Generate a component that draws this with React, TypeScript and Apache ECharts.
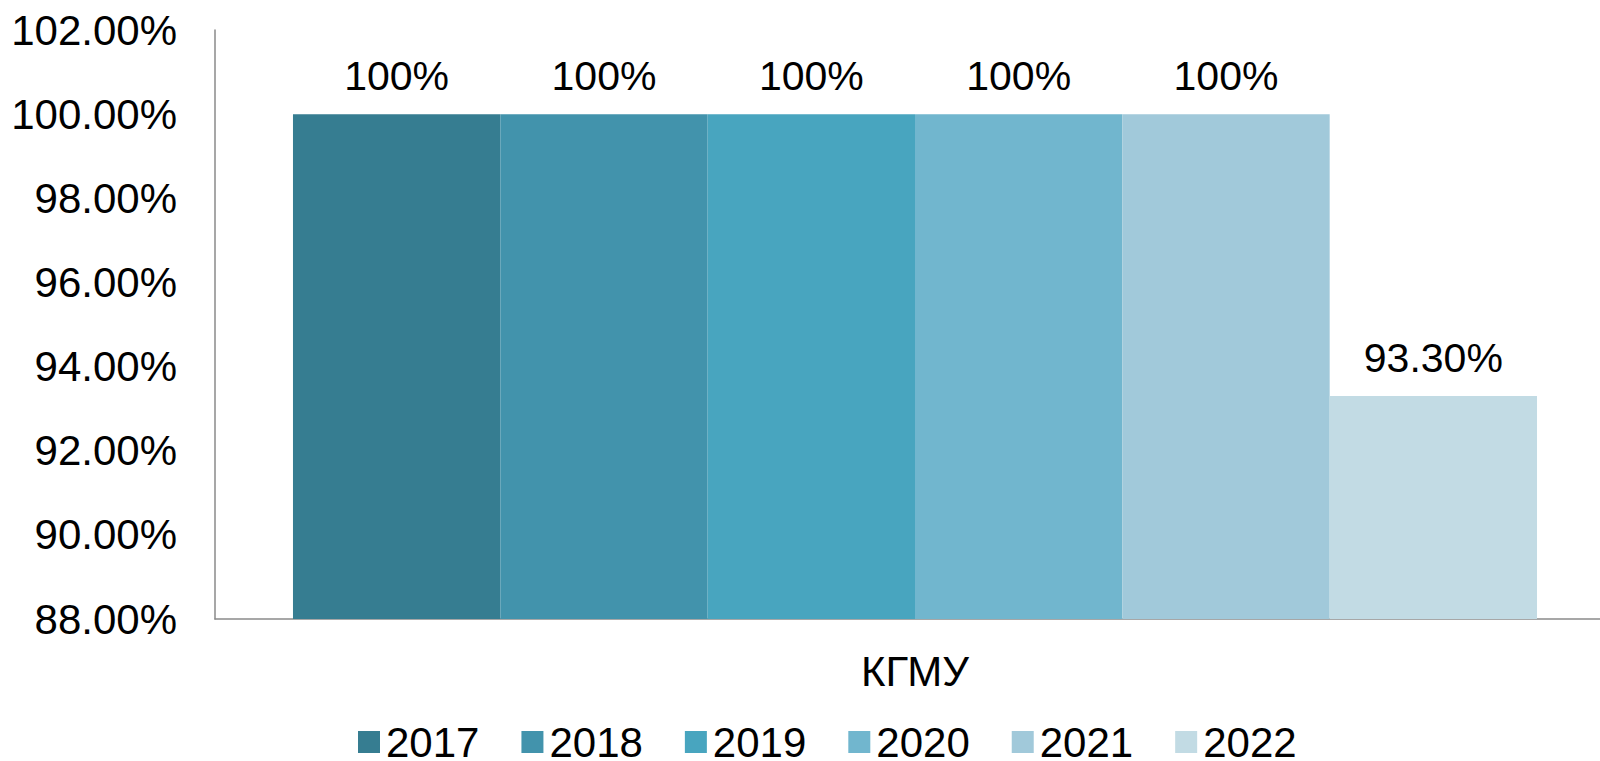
import React, { useEffect, useRef } from "react";
import * as echarts from "echarts";

const categories = ["КГМУ"];
const years = ["2017", "2018", "2019", "2020", "2021", "2022"];
const values = [100, 100, 100, 100, 100, 93.3];
const valueLabels = ["100%", "100%", "100%", "100%", "100%", "93.30%"];
const colors = ["#367d91", "#4293ac", "#48a5bf", "#71b6ce", "#a1c9da", "#c2dbe4"];

const FONT = "'Liberation Sans', Arial, sans-serif";

export default function App() {
  const ref = useRef<HTMLDivElement>(null);
  useEffect(() => {
    document.body.style.margin = "0";
    document.body.style.overflow = "hidden";
    const chart = echarts.init(ref.current!, undefined, { renderer: "svg" });
    chart.setOption({
      animation: false,
      textStyle: { fontFamily: FONT },
      grid: { left: 215, right: 0, top: 30, bottom: 142, containLabel: false },
      legend: {
        left: 353,
        top: 716,
        itemWidth: 22,
        itemHeight: 22,
        itemGap: 42,
        icon: "rect",
        data: years,
        textStyle: { fontSize: 42, lineHeight: 42, color: "#000", fontFamily: FONT, padding: [0, 0, 0, 1] },
      },
      xAxis: {
        type: "category",
        data: categories,
        axisLine: { lineStyle: { color: "#8a8a8a", width: 1.5 } },
        axisTick: { show: false },
        axisLabel: { fontSize: 42, color: "#000", margin: 31, fontFamily: FONT },
      },
      yAxis: {
        type: "value",
        min: 88,
        max: 102,
        interval: 2,
        axisLine: { show: true, lineStyle: { color: "#8a8a8a", width: 1.5 } },
        axisTick: { show: false },
        splitLine: { show: false },
        axisLabel: {
          fontSize: 42,
          color: "#000",
          margin: 38,
          fontFamily: FONT,
          formatter: (v: number) => v.toFixed(2) + "%",
        },
      },
      series: years.map((y, i) => ({
        name: y,
        type: "bar",
        data: [values[i]],
        barGap: "0%",
        barCategoryGap: "11.14%",
        itemStyle: { color: colors[i] },
        label: {
          show: true,
          position: "top",
          distance: 18,
          fontSize: 41,
          color: "#000",
          fontFamily: FONT,
          formatter: () => valueLabels[i],
        },
      })),
    });
    return () => chart.dispose();
  }, []);
  return <div ref={ref} style={{ width: 1615, height: 761 }} />;
}
